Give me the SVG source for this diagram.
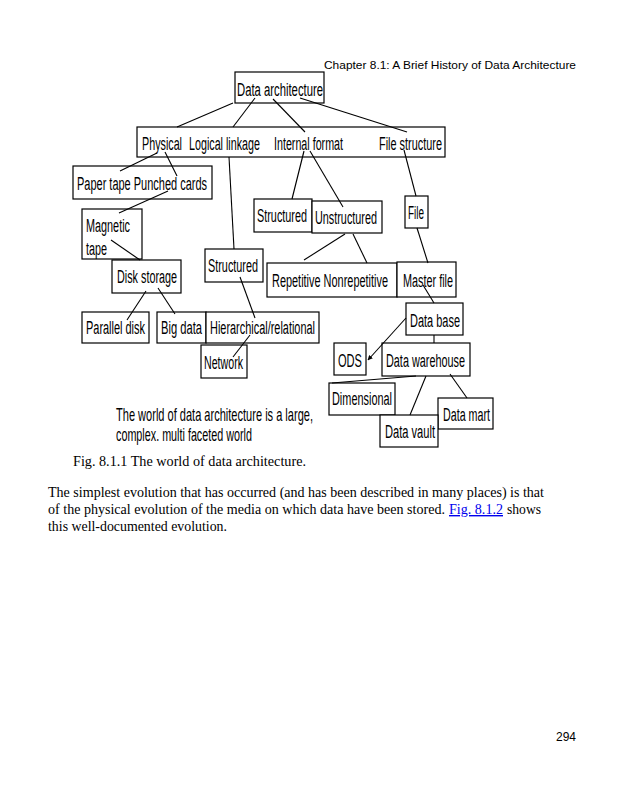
<svg xmlns="http://www.w3.org/2000/svg" width="617" height="800" viewBox="0 0 617 800">
<style>
.box{fill:#fff;stroke:#000;stroke-width:1.2}
.lbl{font-family:"Liberation Sans",Arial,sans-serif;font-size:18px;fill:#000}
.cap{font-family:"Liberation Sans",Arial,sans-serif;font-size:19px;fill:#000}
.ser{font-family:"Liberation Serif","Times New Roman",serif;font-size:14px;fill:#000}
.hdr{font-family:"Liberation Sans",Arial,sans-serif;font-size:11.5px;fill:#000}
#connectors line{stroke:#000;stroke-width:1.1}
</style>
<defs>
<marker id="arr" viewBox="0 0 10 10" refX="9" refY="5" markerWidth="5" markerHeight="5" orient="auto" markerUnits="userSpaceOnUse">
<path d="M0,0 L10,5 L0,10 z" fill="#000"/>
</marker>
</defs>
<rect width="617" height="800" fill="#fff"/>
<text class="hdr" x="324" y="69" textLength="252" lengthAdjust="spacingAndGlyphs">Chapter 8.1: A Brief History of Data Architecture</text>

<g id="n-data-architecture"><rect class="box" x="235" y="72" width="89" height="31"/><text class="lbl" x="237" y="96" textLength="86" lengthAdjust="spacingAndGlyphs">Data architecture</text></g>
<g id="n-categories"><rect class="box" x="137" y="127" width="308" height="30"/>
<text class="lbl" x="142" y="150" textLength="40" lengthAdjust="spacingAndGlyphs">Physical</text>
<text class="lbl" x="189" y="150" textLength="71" lengthAdjust="spacingAndGlyphs">Logical linkage</text>
<text class="lbl" x="274" y="150" textLength="69" lengthAdjust="spacingAndGlyphs">Internal format</text>
<text class="lbl" x="379" y="150" textLength="63" lengthAdjust="spacingAndGlyphs">File structure</text></g>
<g id="n-paper"><rect class="box" x="73" y="166" width="139" height="33"/><text class="lbl" x="77" y="190" textLength="130" lengthAdjust="spacingAndGlyphs">Paper tape  Punched cards</text></g>
<g id="n-magnetic"><rect class="box" x="82" y="209" width="60" height="50"/><text class="lbl" x="86" y="232" textLength="44" lengthAdjust="spacingAndGlyphs">Magnetic</text><text class="lbl" x="86" y="255" textLength="21" lengthAdjust="spacingAndGlyphs">tape</text></g>
<g id="n-disk"><rect class="box" x="112" y="260" width="69" height="33"/><text class="lbl" x="117" y="283" textLength="60" lengthAdjust="spacingAndGlyphs">Disk storage</text></g>
<g id="n-structured-l"><rect class="box" x="205" y="249" width="58" height="33"/><text class="lbl" x="208" y="272" textLength="50" lengthAdjust="spacingAndGlyphs">Structured</text></g>
<g id="n-structured-m"><rect class="box" x="254" y="199" width="58" height="33"/><text class="lbl" x="257" y="222" textLength="50" lengthAdjust="spacingAndGlyphs">Structured</text></g>
<g id="n-unstructured"><rect class="box" x="312" y="201" width="70" height="32"/><text class="lbl" x="315" y="224" textLength="62" lengthAdjust="spacingAndGlyphs">Unstructured</text></g>
<g id="n-file"><rect class="box" x="405" y="196" width="23" height="32"/><text class="lbl" x="408" y="219" textLength="16" lengthAdjust="spacingAndGlyphs">File</text></g>
<g id="n-repetitive"><rect class="box" x="267" y="263" width="130" height="34"/><text class="lbl" x="272" y="287" textLength="116" lengthAdjust="spacingAndGlyphs">Repetitive  Nonrepetitive</text></g>
<g id="n-master"><rect class="box" x="397" y="262" width="59" height="35"/><text class="lbl" x="403" y="287" textLength="50" lengthAdjust="spacingAndGlyphs">Master file</text></g>
<g id="n-parallel"><rect class="box" x="82" y="312" width="67" height="31"/><text class="lbl" x="86" y="334" textLength="59" lengthAdjust="spacingAndGlyphs">Parallel disk</text></g>
<g id="n-bigdata"><rect class="box" x="157" y="312" width="49" height="31"/><text class="lbl" x="161" y="334" textLength="41" lengthAdjust="spacingAndGlyphs">Big data</text></g>
<g id="n-hier"><rect class="box" x="206" y="312" width="113" height="31"/><text class="lbl" x="210" y="334" textLength="105" lengthAdjust="spacingAndGlyphs">Hierarchical/relational</text></g>
<g id="n-network"><rect class="box" x="201" y="345" width="46" height="33"/><text class="lbl" x="204" y="369" textLength="39" lengthAdjust="spacingAndGlyphs">Network</text></g>
<g id="n-database"><rect class="box" x="406" y="303" width="57" height="32"/><text class="lbl" x="410" y="327" textLength="50" lengthAdjust="spacingAndGlyphs">Data base</text></g>
<g id="n-ods"><rect class="box" x="334" y="343" width="32" height="32"/><text class="lbl" x="338" y="367" textLength="24" lengthAdjust="spacingAndGlyphs">ODS</text></g>
<g id="n-warehouse"><rect class="box" x="382" y="343" width="88" height="33"/><text class="lbl" x="386" y="367" textLength="79" lengthAdjust="spacingAndGlyphs">Data warehouse</text></g>
<g id="n-dimensional"><rect class="box" x="329" y="383" width="66" height="32"/><text class="lbl" x="332" y="405" textLength="60" lengthAdjust="spacingAndGlyphs">Dimensional</text></g>
<g id="n-datamart"><rect class="box" x="438" y="398" width="55" height="31"/><text class="lbl" x="443" y="421" textLength="47" lengthAdjust="spacingAndGlyphs">Data mart</text></g>
<g id="n-datavault"><rect class="box" x="380" y="415" width="58" height="32"/><text class="lbl" x="385" y="438" textLength="50" lengthAdjust="spacingAndGlyphs">Data vault</text></g>

<g id="connectors">
<line x1="233" y1="103" x2="177" y2="127"/>
<line x1="255" y1="98" x2="233" y2="127"/>
<line x1="273" y1="99" x2="305" y2="132"/>
<line x1="300" y1="98" x2="407" y2="132"/>
<line x1="157" y1="153" x2="120" y2="171"/>
<line x1="165" y1="152" x2="177" y2="176"/>
<line x1="229" y1="157" x2="234" y2="249"/>
<line x1="304" y1="151" x2="292" y2="199"/>
<line x1="310" y1="151" x2="343" y2="207"/>
<line x1="404" y1="150" x2="416" y2="196"/>
<line x1="168" y1="191" x2="119" y2="213"/>
<line x1="111" y1="240" x2="140" y2="260"/>
<line x1="345" y1="234" x2="304" y2="260"/>
<line x1="353" y1="234" x2="367" y2="263"/>
<line x1="417" y1="228" x2="428" y2="263"/>
<line x1="146" y1="291" x2="127" y2="320"/>
<line x1="158" y1="288" x2="175" y2="314"/>
<line x1="240" y1="277" x2="255" y2="318"/>
<line x1="250" y1="335" x2="233" y2="357"/>
<line x1="423" y1="285" x2="434" y2="303"/>
<line x1="406" y1="318" x2="368" y2="360" marker-end="url(#arr)"/>
<line x1="434" y1="335" x2="434" y2="343"/>
<line x1="416" y1="376" x2="332" y2="383"/>
<line x1="426" y1="376" x2="410" y2="415"/>
<line x1="450" y1="374" x2="467" y2="398"/>
</g>

<text class="cap" x="116" y="421" textLength="197" lengthAdjust="spacingAndGlyphs">The world of data architecture is a large,</text>
<text class="cap" x="116" y="441" textLength="136" lengthAdjust="spacingAndGlyphs">complex. multi faceted world</text>
<text class="ser" x="73" y="466" textLength="233" lengthAdjust="spacingAndGlyphs">Fig. 8.1.1 The world of data architecture.</text>

<text class="ser" x="48" y="497" textLength="496" lengthAdjust="spacingAndGlyphs">The simplest evolution that has occurred (and has been described in many places) is that</text>
<text class="ser" x="48" y="514" textLength="397" lengthAdjust="spacingAndGlyphs">of the physical evolution of the media on which data have been stored.</text>
<text class="ser" x="449" y="514" textLength="54" lengthAdjust="spacingAndGlyphs" fill="#0000ee" style="fill:#0000ee" text-decoration="underline">Fig. 8.1.2</text>
<text class="ser" x="507" y="514" textLength="34" lengthAdjust="spacingAndGlyphs">shows</text>
<text class="ser" x="48" y="531" textLength="179" lengthAdjust="spacingAndGlyphs">this well-documented evolution.</text>
<text class="hdr" x="576" y="741" text-anchor="end" style="font-size:12px">294</text>
</svg>
